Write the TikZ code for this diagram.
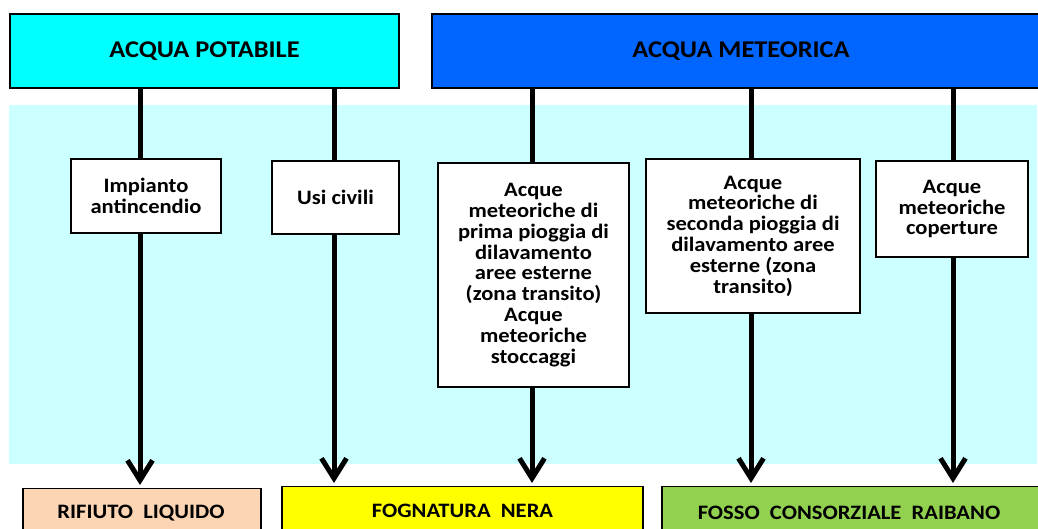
\documentclass[tikz,border=0pt]{standalone}
\usepackage{fontspec}
\setmainfont{Carlito}[FakeStretch=1.1]
\usetikzlibrary{arrows.meta}
\definecolor{potcol}{HTML}{00FFFF}
\definecolor{metcol}{HTML}{0066FF}
\definecolor{bandcol}{HTML}{CCFFFF}
\definecolor{rifcol}{HTML}{FCD5B4}
\definecolor{fogcol}{HTML}{FFFF00}
\definecolor{foscol}{HTML}{92D050}
\tikzset{
  hdr/.style={draw=black, line width=2pt, inner sep=0pt, font=\fontsize{24}{28}\selectfont\bfseries},
  midbox/.style={draw=black, line width=1.5pt, fill=white, inner sep=0pt, align=center, font=\fontsize{20.5}{20.8}\selectfont\bfseries},
  endbox/.style={draw=black, line width=1.3pt, inner sep=0pt},
  endtxt/.style={font=\fontsize{20.5}{24}\selectfont\bfseries, inner sep=0pt},
  pipe/.style={line width=5pt},
  flow/.style={line width=5pt, -{Straight Barb[length=20pt,width=25pt]}, shorten >=3pt},
}
\begin{document}
\begin{tikzpicture}[x=1pt,y=-1pt]
\useasboundingbox (0,0) rectangle (1038,528);
% background band
\fill[bandcol] (9,105) rectangle (1037,464);
% headers
\node[hdr, fill=potcol, minimum width=389pt, minimum height=74pt] (pot) at (204.5,51) {ACQUA POTABILE};
\node[hdr, fill=metcol, minimum width=618pt, minimum height=74pt] (met) at (741,51) {ACQUA METEORICA};
% line positions
\coordinate (l1) at (140,0);
\coordinate (l2) at (334,0);
\coordinate (l3) at (532,0);
\coordinate (l4) at (751,0);
\coordinate (l5) at (953,0);
% bottom boxes
\node[endbox, fill=rifcol, minimum width=238pt, minimum height=56pt, anchor=north] (rif) at (142,488) {};
\node[endtxt] at (141,513) (riftxt) {RIFIUTO\ \ LIQUIDO};
\node[endbox, fill=fogcol, minimum width=361pt, minimum height=58pt, anchor=north] (fog) at (462.5,486) {};
\node[endtxt] at (462.5,511) (fogtxt) {FOGNATURA\ \ NERA};
\node[endbox, fill=foscol, minimum width=378pt, minimum height=58pt, anchor=north] (fos) at (851,486) {};
\node[endtxt] at (849,513) (fostxt) {FOSSO\ \ CONSORZIALE\ \ RAIBANO};
% middle boxes
\node[midbox, minimum width=150pt, minimum height=74pt] (imp) at (146,196) {Impianto\\antincendio};
\node[midbox, minimum width=127pt, minimum height=73pt] (usi) at (335.5,197.5) {Usi civili};
\node[midbox, minimum width=191pt, minimum height=224pt] (pri) at (533.5,275) {Acque\\meteoriche di\\prima pioggia di\\dilavamento\\aree esterne\\(zona transito)\\Acque\\meteoriche\\stoccaggi};
\node[midbox, minimum width=214pt, minimum height=154pt] (sec) at (753,236) {Acque\\meteoriche di\\seconda pioggia di\\dilavamento aree\\esterne (zona\\transito)};
\node[midbox, minimum width=152pt, minimum height=96pt] (cop) at (952,209) {Acque\\meteoriche\\coperture};
% connectors
\draw[pipe] (pot.south -| l1) -- (imp.north -| l1);
\draw[flow] (imp.south -| l1) -- (rif.north -| l1);
\draw[pipe] (pot.south -| l2) -- (usi.north -| l2);
\draw[flow] (usi.south -| l2) -- (fog.north -| l2);
\draw[pipe] (met.south -| l3) -- (pri.north -| l3);
\draw[flow] (pri.south -| l3) -- (fog.north -| l3);
\draw[pipe] (met.south -| l4) -- (sec.north -| l4);
\draw[flow] (sec.south -| l4) -- (fos.north -| l4);
\draw[pipe] (met.south -| l5) -- (cop.north -| l5);
\draw[flow] (cop.south -| l5) -- (fos.north -| l5);
\end{tikzpicture}
\end{document}
